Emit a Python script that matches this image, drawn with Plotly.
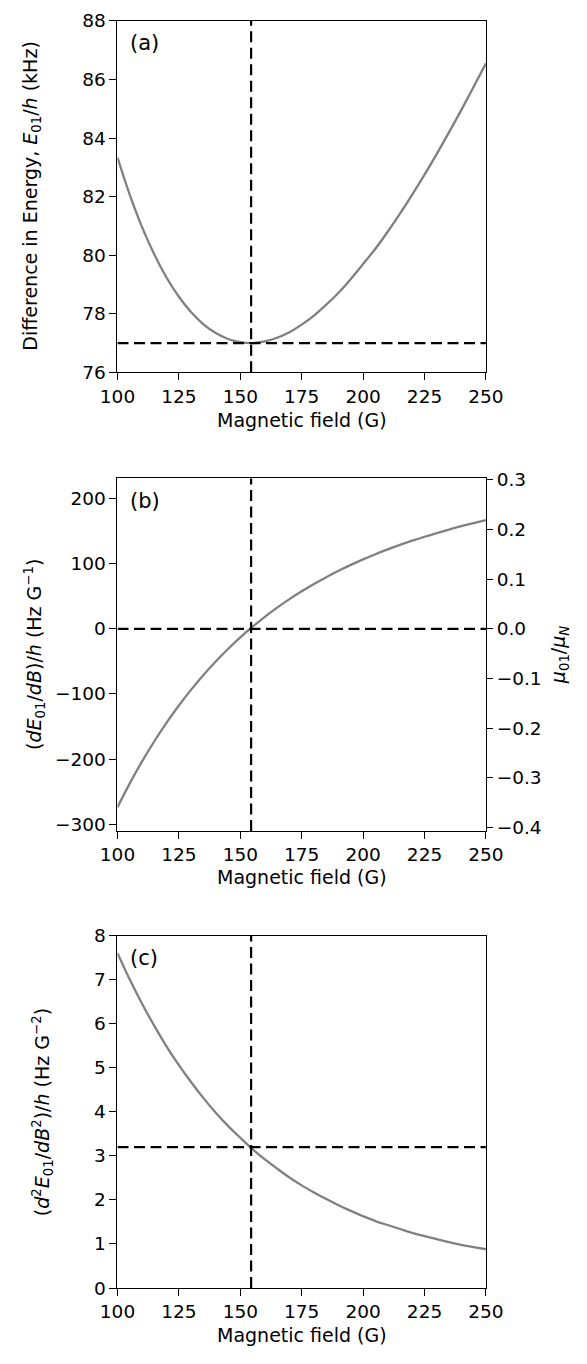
import plotly.graph_objects as go

# Magnetic field values (G)
B = [100, 105, 110, 115, 120, 125, 130, 135, 140, 145, 150, 155, 160, 165, 170, 175,
     180, 185, 190, 195, 200, 205, 210, 215, 220, 225, 230, 235, 240, 245, 250]

# (a) Energy difference E01/h (kHz)
E01 = [83.33, 82.06, 80.96, 80.02, 79.23, 78.58, 78.05, 77.64, 77.34, 77.14, 77.03,
       77.00, 77.06, 77.18, 77.37, 77.63, 77.94, 78.31, 78.72, 79.19, 79.70, 80.22,
       80.80, 81.42, 82.07, 82.75, 83.46, 84.20, 84.96, 85.75, 86.55]

# (b) dE01/dB / h (Hz/G)
dE01 = [-273.6, -237.1, -203.5, -172.5, -143.9, -117.6, -93.3, -70.8, -50.1, -31.0,
        -13.2, 3.2, 18.4, 32.4, 45.5, 57.5, 68.8, 79.2, 89.0, 98.0, 106.5, 114.4,
        121.7, 128.6, 135.1, 141.2, 146.9, 152.2, 157.4, 162.1, 166.7]

# (c) d2E01/dB2 / h (Hz/G^2)
d2E01 = [7.60, 7.00, 6.45, 5.95, 5.48, 5.06, 4.67, 4.31, 3.98, 3.68, 3.41, 3.15, 2.92,
         2.71, 2.51, 2.33, 2.17, 2.02, 1.88, 1.75, 1.63, 1.52, 1.43, 1.34, 1.25, 1.18,
         1.11, 1.04, 0.98, 0.93, 0.88]

B_star = 154.4      # field of zero first derivative (G)
E_min = 77.0        # kHz
dE_zero = 0.0
d2E_star = 3.2      # Hz/G^2
muN_hz_per_G = 762.26

panel_labels = ["(a)", "(b)", "(c)"]
x_ticks = [100, 125, 150, 175, 200, 225, 250]
ya_ticks = [76, 78, 80, 82, 84, 86, 88]
yb_ticks = [-300, -200, -100, 0, 100, 200]
yc_ticks = [0, 1, 2, 3, 4, 5, 6, 7, 8]
mu_ticks = [-0.4, -0.3, -0.2, -0.1, 0.0, 0.1, 0.2, 0.3]

x_title = "Magnetic field (G)"
y_titles = [
    "Difference in Energy, <i>E</i><sub>01</sub>/<i>h</i> (kHz)",
    "(<i>dE</i><sub>01</sub>/<i>dB</i>)/<i>h</i> (Hz G<sup>\u22121</sup>)",
    "(<i>d</i><sup>2</sup><i>E</i><sub>01</sub>/<i>dB</i><sup>2</sup>)/<i>h</i> (Hz G<sup>\u22122</sup>)",
]
y2_title = "<i>\u03bc</i><sub>01</sub>/<i>\u03bc</i><sub><i>N</i></sub>"


def minus(v, fmt):
    s = fmt.format(abs(v))
    return ("\u2212" + s) if v < 0 else s


FONT = "DejaVu Sans"
TFS = 18.5   # tick font
LFS = 19     # label font
W, H = 587, 1364

x_dom = [106 / W, 498.5 / W]
panel_px = [(10, 367), (474.5, 832.7), (939, 1297)]
doms = [[(H - b) / H, (H - t) / H] for t, b in panel_px]

fig = go.Figure()

curve_style = dict(color="#808080", width=2.3)
dash_style = dict(color="black", width=2.2, dash="11px,5.5px")

fig.add_trace(go.Scatter(x=B, y=E01, mode="lines", line=dict(shape="spline", **curve_style),
                         xaxis="x", yaxis="y", showlegend=False))
fig.add_trace(go.Scatter(x=B, y=dE01, mode="lines", line=dict(shape="spline", **curve_style),
                         xaxis="x2", yaxis="y2", showlegend=False))
fig.add_trace(go.Scatter(x=B, y=d2E01, mode="lines", line=dict(shape="spline", **curve_style),
                         xaxis="x3", yaxis="y3", showlegend=False))

ranges_y = [[76, 88], [-310, 231], [0, 8]]
hvals = [E_min, dE_zero, d2E_star]
for i, (xa, ya) in enumerate([("x", "y"), ("x2", "y2"), ("x3", "y3")]):
    fig.add_trace(go.Scatter(x=[B_star, B_star], y=ranges_y[i], mode="lines", line=dash_style,
                             xaxis=xa, yaxis=ya, showlegend=False, hoverinfo="skip"))
    fig.add_trace(go.Scatter(x=[100, 250], y=[hvals[i], hvals[i]], mode="lines", line=dash_style,
                             xaxis=xa, yaxis=ya, showlegend=False, hoverinfo="skip"))

axis_common = dict(showline=True, linecolor="black", linewidth=1.2, mirror=True,
                   ticks="outside", ticklen=7, tickwidth=1.2, tickcolor="black",
                   showgrid=False, zeroline=False,
                   tickfont=dict(family=FONT, size=TFS, color="black"))

layout = dict(
    width=W, height=H,
    margin=dict(l=0, r=0, t=0, b=0),
    paper_bgcolor="white", plot_bgcolor="white",
    font=dict(family=FONT, size=LFS, color="black"),
)

for i in range(3):
    xn = "xaxis" if i == 0 else f"xaxis{i+1}"
    anchor_y = "y" if i == 0 else f"y{i+1}"
    layout[xn] = dict(domain=x_dom, anchor=anchor_y, range=[100, 250], tickvals=x_ticks, **axis_common)

layout["yaxis"] = dict(domain=doms[0], anchor="x", range=ranges_y[0], tickvals=ya_ticks, **axis_common)
layout["yaxis2"] = dict(domain=doms[1], anchor="x2", range=ranges_y[1], tickvals=yb_ticks,
                        ticktext=[minus(v, "{:d}") for v in yb_ticks], **axis_common)
layout["yaxis3"] = dict(domain=doms[2], anchor="x3", range=ranges_y[2], tickvals=yc_ticks, **axis_common)
r2 = [ranges_y[1][0] / muN_hz_per_G, ranges_y[1][1] / muN_hz_per_G]
layout["yaxis4"] = dict(domain=doms[1], anchor="x2", overlaying="y2", side="right", range=r2,
                        tickvals=mu_ticks, ticktext=[minus(v, "{:.1f}") for v in mu_ticks],
                        showline=True, linecolor="black", linewidth=1.2,
                        ticks="outside", ticklen=6, tickwidth=1.2, tickcolor="black",
                        showgrid=False, zeroline=False,
                        tickfont=dict(family=FONT, size=TFS, color="black"))

fig.update_layout(**layout)

# invisible trace registering the right-hand axis
fig.add_trace(go.Scatter(x=[100], y=[0], mode="markers", marker=dict(opacity=0),
                         xaxis="x2", yaxis="y4", showlegend=False, hoverinfo="skip"))

xtitle_px = [415, 880, 1345]
ytitle_px = [15, 17.5, 26]
for i in range(3):
    xr = "x" if i == 0 else f"x{i+1}"
    yr = "y" if i == 0 else f"y{i+1}"
    # panel label
    fig.add_annotation(text=panel_labels[i], xref=f"{xr} domain", yref=f"{yr} domain", x=0.028, y=0.936,
                       xanchor="left", yanchor="middle", showarrow=False,
                       font=dict(family=FONT, size=21, color="black"))
    # x-axis title
    fig.add_annotation(text=x_title, xref=f"{xr} domain", yref="paper", x=0.5,
                       y=(H - xtitle_px[i]) / H, xanchor="center", yanchor="middle", showarrow=False,
                       font=dict(family=FONT, size=LFS, color="black"))
    # y-axis title
    fig.add_annotation(text=y_titles[i], xref="paper", yref=f"{yr} domain", x=ytitle_px[i] / W, y=0.5,
                       xanchor="center", yanchor="middle", textangle=-90, showarrow=False,
                       font=dict(family=FONT, size=LFS, color="black"))

fig.add_annotation(text=y2_title, xref="paper", yref="y2 domain", x=577 / W, y=0.5,
                   xanchor="center", yanchor="middle", textangle=-90, showarrow=False,
                   font=dict(family=FONT, size=LFS, color="black"))

fig.write_html("out.html")
